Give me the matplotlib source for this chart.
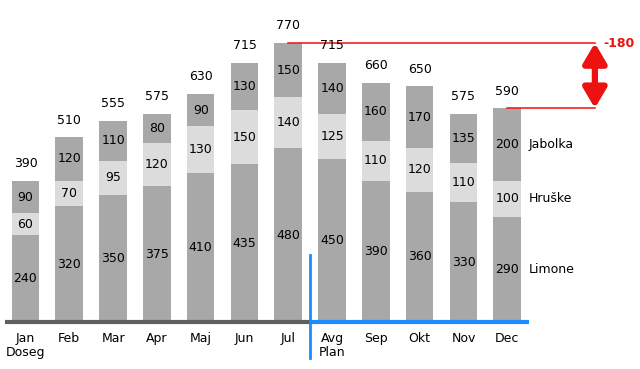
import matplotlib.pyplot as plt
from matplotlib.patches import FancyArrowPatch

# podatki
mesci = ['Jan\nDoseg', 'Feb', 'Mar', 'Apr', 'Maj', 'Jun', 'Jul',
         'Avg\nPlan', 'Sep', 'Okt', 'Nov', 'Dec']
limone = [240, 320, 350, 375, 410, 435, 480, 450, 390, 360, 330, 290]
hruske = [60, 70, 95, 120, 130, 150, 140, 125, 110, 120, 110, 100]
jabolka = [90, 120, 110, 80, 90, 130, 150, 140, 160, 170, 135, 200]
serije = ['Limone', 'Hruške', 'Jabolka']

plt.rcParams['font.family'] = ['DejaVu Sans']

fig = plt.figure(figsize=(6.4, 3.69), dpi=100)
ax = fig.add_axes([0, 0, 1, 1])
ax.set_axis_off()

x = list(range(len(mesci)))
temna = '#a8a8a8'
svetla = '#dcdcdc'
sirina = 0.63
fs = 9

vrh = [a + b + c for a, b, c in zip(limone, hruske, jabolka)]
spodaj2 = [a + b for a, b in zip(limone, hruske)]

ax.bar(x, limone, sirina, color=temna)
ax.bar(x, hruske, sirina, bottom=limone, color=svetla)
ax.bar(x, jabolka, sirina, bottom=spodaj2, color=temna)

for i in x:
    ax.text(i, limone[i] / 2, str(limone[i]), ha='center', va='center', fontsize=fs)
    ax.text(i, limone[i] + hruske[i] / 2, str(hruske[i]), ha='center', va='center', fontsize=fs)
    ax.text(i, spodaj2[i] + jabolka[i] / 2, str(jabolka[i]), ha='center', va='center', fontsize=fs)
    ax.text(i, vrh[i] + 47, str(vrh[i]), ha='center', va='center', fontsize=fs)
    ax.text(i, -28, mesci[i], ha='center', va='top', fontsize=fs,
            multialignment='center', linespacing=1.05)

# imena serij ob decembru
d = len(x) - 1
ax.text(d + 0.48, limone[d] / 2, serije[0], va='center', fontsize=fs)
ax.text(d + 0.48, limone[d] + hruske[d] / 2, serije[1], va='center', fontsize=fs)
ax.text(d + 0.48, spodaj2[d] + jabolka[d] / 2, serije[2], va='center', fontsize=fs)

# os: doseg / plan
ax.plot([-0.47, 6.5], [0, 0], color='#5f5f5f', lw=3, solid_capstyle='butt')
ax.plot([6.5, 11.5], [0, 0], color='#1a8cff', lw=3, solid_capstyle='butt')
ax.plot([6.5, 6.5], [-99, 185], color='#1a8cff', lw=2)

# razlika
jul = 6
xa = 13.0
ax.plot([jul, xa], [vrh[jul], vrh[jul]], color='#ee1111', lw=1.1)
ax.plot([d, xa], [vrh[d], vrh[d]], color='#ee1111', lw=1.1)
arr = FancyArrowPatch((xa, vrh[d]), (xa, vrh[jul]),
                      arrowstyle='<|-|>,head_length=0.85,head_width=0.5',
                      mutation_scale=14, lw=4.5, color='#ee1111',
                      shrinkA=0, shrinkB=0)
ax.add_patch(arr)
ax.text(xa + 0.2, vrh[jul], str(vrh[d] - vrh[jul]), color='#ee1111',
        fontsize=fs, fontweight='bold', va='center')

ax.set_xlim(-0.582, 14.03)
ax.set_ylim(-129.7, 888.7)

fig.savefig('out.png', dpi=100, facecolor='white')
